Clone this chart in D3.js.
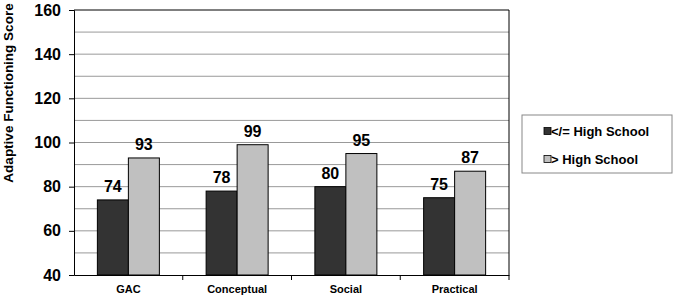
<!DOCTYPE html>
<html lang="en">
<head>
    <title>Adaptive Functioning Score</title>
    <script src="https://d3js.org/d3.v7.min.js"></script>
    <style>
        body { margin: 0; background: #fff; }
        text { font-family: Arial, "Liberation Sans", sans-serif; font-weight: bold; }
    </style>
</head>
<body>
<script>
    // Data
    const categories = ["GAC", "Conceptual", "Social", "Practical"];
    const seriesNames = ["</= High School", "> High School"];
    const lowEd  = [74, 78, 80, 75];
    const highEd = [93, 99, 95, 87];
    const yTicks = [40, 60, 80, 100, 120, 140, 160];
    const colors = ["#333333", "#c0c0c0"];

    const width = 674, height = 298;
    const plot = { left: 74, top: 10, right: 509, bottom: 275 };

    const svg = d3.select("body").append("svg")
        .attr("width", width)
        .attr("height", height);

    const x = d3.scaleBand()
        .domain(categories)
        .range([plot.left, plot.right]);

    const y = d3.scaleLinear()
        .domain([40, 160])
        .range([plot.bottom, plot.top]);

    const barW = 31;

    // gridlines every 10
    svg.append("g")
        .selectAll("line")
        .data(d3.range(50, 160, 10))
        .join("line")
        .attr("x1", plot.left).attr("x2", plot.right)
        .attr("y1", d => y(d)).attr("y2", d => y(d))
        .attr("stroke", "#999")
        .attr("stroke-width", 1);

    // plot frame (top and right)
    svg.append("path")
        .attr("d", `M${plot.left},${y(160)}H${plot.right}V${plot.bottom}`)
        .attr("fill", "none")
        .attr("stroke", "#000")
        .attr("stroke-width", 1);

    // y axis
    const yAxis = svg.append("g")
        .attr("transform", `translate(${plot.left},0)`)
        .call(d3.axisLeft(y).tickValues(yTicks).tickSize(5).tickPadding(8));
    yAxis.select(".domain").attr("stroke", "#000");
    yAxis.selectAll("text")
        .attr("font-size", 16)
        .attr("font-family", "Arial, 'Liberation Sans', sans-serif")
        .attr("font-weight", "bold")
        .attr("fill", "#000");

    // x axis
    const xAxis = svg.append("g")
        .attr("transform", `translate(0,${plot.bottom})`)
        .call(d3.axisBottom(x).tickSize(0).tickPadding(10));
    xAxis.select(".domain").attr("stroke", "#000");
    xAxis.selectAll("text")
        .attr("font-size", 11)
        .attr("font-family", "Arial, 'Liberation Sans', sans-serif")
        .attr("font-weight", "bold")
        .attr("fill", "#000");
    // tick marks between categories
    svg.append("g")
        .selectAll("line")
        .data(categories.slice(1).concat(["end"]))
        .join("line")
        .attr("x1", (d, i) => i < 3 ? x(d) : plot.right)
        .attr("x2", (d, i) => i < 3 ? x(d) : plot.right)
        .attr("y1", plot.bottom).attr("y2", plot.bottom + 5)
        .attr("stroke", "#000");

    // bars
    const groups = svg.append("g")
        .selectAll("g")
        .data(categories)
        .join("g")
        .attr("transform", d => `translate(${x(d) + x.bandwidth() / 2 - barW},0)`);

    [lowEd, highEd].forEach((vals, s) => {
        groups.append("rect")
            .attr("x", s * barW)
            .attr("y", (d, i) => y(vals[i]))
            .attr("width", barW)
            .attr("height", (d, i) => y(40) - y(vals[i]))
            .attr("fill", colors[s])
            .attr("stroke", "#000")
            .attr("stroke-width", 1);

        groups.append("text")
            .attr("x", s * barW + barW / 2)
            .attr("y", (d, i) => y(vals[i]) - 8)
            .attr("text-anchor", "middle")
            .attr("font-size", 16)
            .text((d, i) => vals[i]);
    });

    // y axis title
    svg.append("text")
        .attr("transform", "translate(13,93) rotate(-90)")
        .attr("text-anchor", "middle")
        .attr("font-size", 13.5)
        .text("Adaptive Functioning Score");

    // legend
    const legend = svg.append("g");
    legend.append("rect")
        .attr("x", 522).attr("y", 115)
        .attr("width", 150).attr("height", 58)
        .attr("fill", "#fff")
        .attr("stroke", "#888")
        .attr("stroke-width", 1);

    seriesNames.forEach((name, i) => {
        const cy = 131 + i * 28;
        legend.append("rect")
            .attr("x", 544).attr("y", cy - 3.5)
            .attr("width", 7).attr("height", 7)
            .attr("fill", colors[i])
            .attr("stroke", "#000")
            .attr("stroke-width", 0.8);
        legend.append("text")
            .attr("x", 551).attr("y", cy + 4.5)
            .attr("font-size", 13)
            .text(name);
    });
</script>
</body>
</html>
